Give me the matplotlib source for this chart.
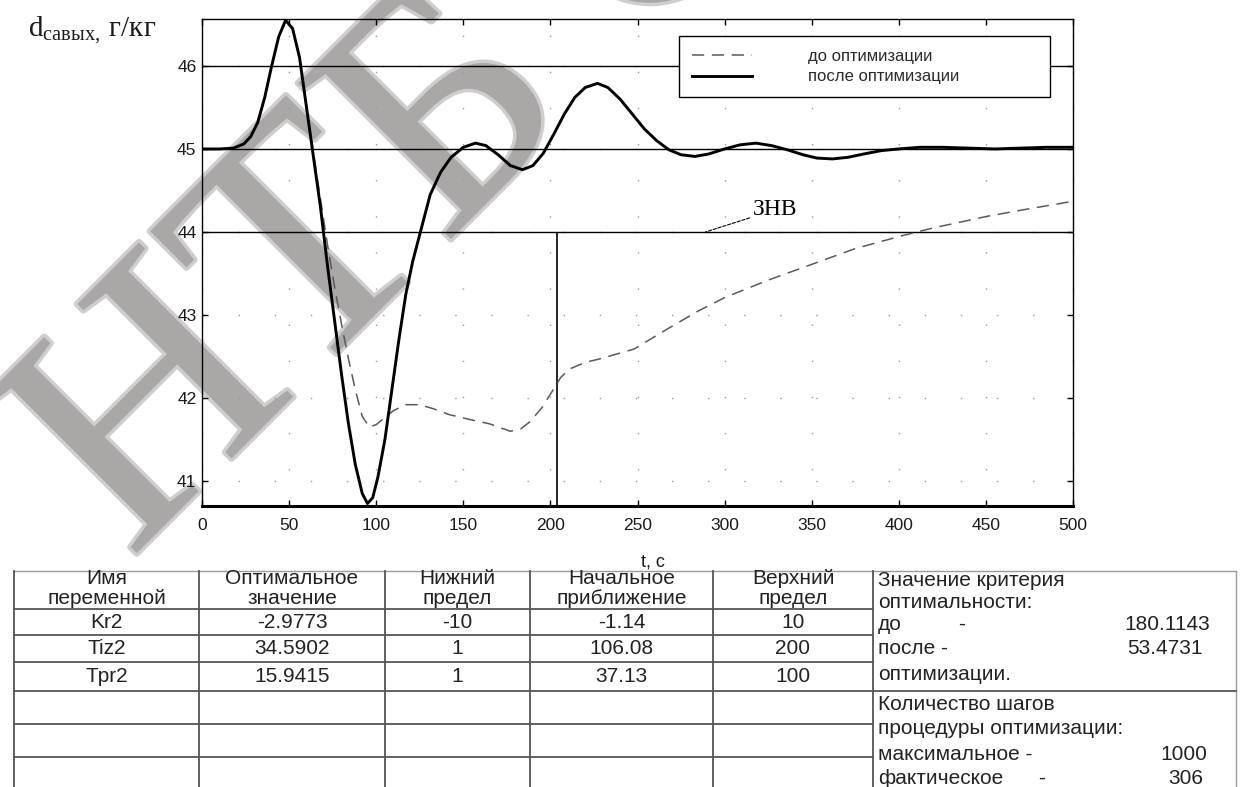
import matplotlib
matplotlib.use("Agg")
import matplotlib.pyplot as plt
import matplotlib.patheffects as pe

# ── Transient data (t, c ; humidity, g/kg) ──────────────────────────────────
t_after = [0, 10, 18, 24, 28, 32, 36, 40, 44, 48, 52, 56, 60, 64, 68, 72, 76,
           80, 84, 88, 92, 95, 98, 101, 105, 109, 113, 117, 121, 126, 131, 137,
           143, 150, 157, 163, 170, 177, 184, 190, 196, 202, 208, 214, 220, 227,
           233, 240, 247, 254, 261, 268, 275, 283, 291, 300, 309, 318, 327, 336,
           345, 353, 362, 371, 380, 390, 400, 412, 425, 440, 455, 470, 485, 500]
d_after = [45.0, 45.0, 45.01, 45.06, 45.15, 45.32, 45.62, 46.0, 46.35, 46.55,
           46.45, 46.1, 45.5, 44.9, 44.3, 43.6, 42.95, 42.3, 41.7, 41.2, 40.85,
           40.73, 40.8, 41.05, 41.5, 42.1, 42.7, 43.25, 43.65, 44.05, 44.45,
           44.72, 44.9, 45.02, 45.07, 45.04, 44.93, 44.8, 44.75, 44.8, 44.95,
           45.18, 45.42, 45.62, 45.74, 45.79, 45.74, 45.6, 45.42, 45.24, 45.1,
           44.99, 44.93, 44.91, 44.94, 45.0, 45.05, 45.07, 45.04, 44.99, 44.93,
           44.89, 44.88, 44.9, 44.94, 44.98, 45.0, 45.02, 45.02, 45.01, 45.0,
           45.01, 45.02, 45.02]

t_before = [0, 10, 18, 24, 28, 32, 36, 40, 44, 48, 52, 56, 60, 64, 68, 72, 76,
            80, 84, 88, 92, 96, 100, 104, 110, 117, 125, 133, 142, 152, 165,
            177, 183, 188, 195, 201, 206, 211, 220, 228, 248, 267, 285, 300,
            325, 350, 375, 401, 420, 451, 475, 500]
d_before = [45.0, 45.0, 45.01, 45.06, 45.15, 45.32, 45.62, 46.0, 46.35, 46.55,
            46.45, 46.1, 45.5, 44.95, 44.4, 43.85, 43.35, 42.9, 42.48, 42.1,
            41.78, 41.65, 41.68, 41.75, 41.85, 41.92, 41.92, 41.87, 41.8, 41.75,
            41.69, 41.6, 41.63, 41.71, 41.88, 42.08, 42.25, 42.35, 42.43, 42.47,
            42.59, 42.83, 43.05, 43.21, 43.42, 43.61, 43.8, 43.95, 44.05, 44.19,
            44.28, 44.37]

ref_levels = [46, 45, 44]     # horizontal reference lines
znv_level = 44                # lower boundary of the dead zone
t_mark = 204                  # vertical marker

x_ticks = list(range(0, 501, 50))
y_ticks = [41, 42, 43, 44, 45, 46]

# ── Optimisation summary table ──────────────────────────────────────────────
col_headers = ["Имя\nпеременной", "Оптимальное\nзначение", "Нижний\nпредел",
               "Начальное\nприближение", "Верхний\nпредел"]
var_names = ["Kr2", "Tiz2", "Tpr2"]
opt_values = ["-2.9773", "34.5902", "15.9415"]
lower_bounds = ["-10", "1", "1"]
initial_values = ["-1.14", "106.08", "37.13"]
upper_bounds = ["10", "200", "100"]

crit_before = "180.1143"
crit_after = "53.4731"
steps_max = "1000"
steps_actual = "306"

W, H = 1250, 787
fig = plt.figure(figsize=(W / 100, H / 100), dpi=100)
fig.patch.set_facecolor("white")

SANS = ["Liberation Sans", "DejaVu Sans"]
SERIF = ["Liberation Serif", "DejaVu Serif"]

# watermark underneath everything
fig.text(130 / W, 1 - 560 / H, "НТБ С", family=SERIF, fontsize=240,
         color="#aaa7a7", rotation=45, rotation_mode="anchor",
         ha="left", va="baseline", zorder=-5,
         path_effects=[pe.Stroke(linewidth=5, foreground="#cfcdcd"), pe.Normal()])

# ── Plot ────────────────────────────────────────────────────────────────────
L, R, T, B = 202, 1073, 19, 506
ax = fig.add_axes([L / W, 1 - B / H, (R - L) / W, (B - T) / H])
ax.patch.set_visible(False)

ax.plot(t_before, d_before, color="#5a5a5a", lw=1.1, ls=(0, (8, 5)),
        label="до оптимизации", zorder=3)
ax.plot(t_after, d_after, color="black", lw=2.1, label="после оптимизации",
        zorder=4)

for lvl in ref_levels:
    ax.axhline(lvl, color="black", lw=1.0, zorder=2)
ax.vlines(t_mark, 40.0, znv_level, color="black", lw=1.2, zorder=2)

ax.annotate("ЗНВ", xy=(289, znv_level), xytext=(316, 44.2),
            family=SERIF, fontsize=17, va="baseline", ha="left",
            arrowprops=dict(arrowstyle="-", lw=0.8, ls=(0, (3, 1.5)),
                            shrinkA=0, shrinkB=0, color="black"))

ax.set_xlim(0, 500)
ax.set_ylim(40.7, 46.565)
ax.set_xticks(x_ticks)
ax.set_yticks(y_ticks)
ax.grid(True, color="#9a9a9a", lw=1.0, ls=(0, (1, 25)))
ax.tick_params(direction="in", length=4, width=1, top=True, right=True,
               labelsize=12.5, colors="black", labelcolor="#1a1a1a")
ax.tick_params(axis="x", pad=9)
ax.tick_params(axis="y", pad=4)
for lbl in ax.get_xticklabels() + ax.get_yticklabels():
    lbl.set_family(SANS)
for side in ("top", "right", "left"):
    ax.spines[side].set_linewidth(1.0)
ax.spines["bottom"].set_linewidth(2.2)

leg = ax.legend(loc="upper left", bbox_to_anchor=(0.548, 0.844, 0.426, 0.121),
                mode="expand", ncol=1, handlelength=3.6, handletextpad=3.4,
                borderpad=0.75, labelspacing=0.35, borderaxespad=0,
                fancybox=False, framealpha=1, edgecolor="black",
                prop=dict(family=SANS, size=12))
leg.get_frame().set_linewidth(1.0)
for txt in leg.get_texts():
    txt.set_color("#2a2a2a")

fig.text(653 / W, 1 - 562 / H, "t, c", family=SANS, fontsize=13,
         ha="center", va="center", color="#1a1a1a")
fig.text(28 / W, 1 - 36 / H, r"$\mathregular{d_{савых,}\,}$г/кг",
         family=SERIF, fontsize=21, ha="left", va="baseline", color="#1a1a1a")

# ── Table (pixel coordinates of the lower panel) ────────────────────────────
tab = fig.add_axes([0, 0, 1, 1])
tab.set_xlim(0, W)
tab.set_ylim(H, 0)
tab.axis("off")
tab.patch.set_visible(False)

col_x = [14, 199, 385, 530, 713, 873, 1236]
row_y = [571, 609, 635, 662, 691, 724, 757]
line_kw = dict(color="#555555", lw=1.3)

tab.plot([col_x[0], col_x[-1]], [row_y[0], row_y[0]], color="#9a9a9a", lw=1.0)
for y in row_y[1:]:
    tab.plot([col_x[0], col_x[5]], [y, y], **line_kw)
for x in col_x[:-1]:
    tab.plot([x, x], [row_y[0], H], **line_kw)
tab.plot([col_x[-1], col_x[-1]], [row_y[0], H], color="#9a9a9a", lw=1.0)
tab.plot([col_x[5], col_x[-1]], [691, 691], **line_kw)

txt_kw = dict(family=SANS, fontsize=15, color="#222222", va="center")
centers = [(col_x[i] + col_x[i + 1]) / 2 for i in range(5)]
for cx, head in zip(centers, col_headers):
    top, bottom = head.split("\n")
    tab.text(cx, 579, top, ha="center", **txt_kw)
    tab.text(cx, 599, bottom, ha="center", **txt_kw)

columns = [var_names, opt_values, lower_bounds, initial_values, upper_bounds]
for cx, col in zip(centers, columns):
    for k, val in enumerate(col):
        yc = (row_y[k + 1] + row_y[k + 2]) / 2
        tab.text(cx, yc, val, ha="center", **txt_kw)

px = 878
tab.text(px, 580, "Значение критерия", ha="left", **txt_kw)
tab.text(px, 602, "оптимальности:", ha="left", **txt_kw)
tab.text(px, 624, "до", ha="left", **txt_kw)
tab.text(962, 624, "-", ha="center", **txt_kw)
tab.text(1210, 624, crit_before, ha="right", **txt_kw)
tab.text(px, 649, "после -", ha="left", **txt_kw)
tab.text(1203, 649, crit_after, ha="right", **txt_kw)
tab.text(px, 674, "оптимизации.", ha="left", **txt_kw)
tab.text(px, 704, "Количество шагов", ha="left", **txt_kw)
tab.text(px, 729, "процедуры оптимизации:", ha="left", **txt_kw)
tab.text(px, 754, "максимальное -", ha="left", **txt_kw)
tab.text(1207, 754, steps_max, ha="right", **txt_kw)
tab.text(px, 778, "фактическое", ha="left", **txt_kw)
tab.text(1042, 778, "-", ha="center", **txt_kw)
tab.text(1203, 778, steps_actual, ha="right", **txt_kw)

fig.savefig("out.png", dpi=100, facecolor="white")
